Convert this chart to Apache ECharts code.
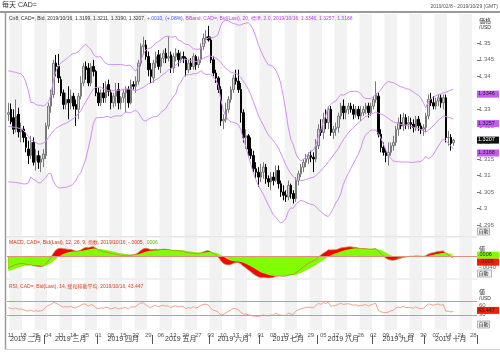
<!DOCTYPE html>
<html>
<head>
<meta charset="utf-8">
<script src="https://cdn.jsdelivr.net/npm/echarts/dist/echarts.min.js"></script>
<style>
  html, body { margin: 0; padding: 0; background: #fff; }
  #chart { width: 500px; height: 352px; }
</style>
</head>
<body>
<div id="chart"></div>
<script>
// daily bars, 2019/02/08 .. 2019/10/16 (weekdays)
const opens = [1.3285,1.3300,1.3275,1.3240,1.3285,1.3232,1.3240,1.3215,1.3180,1.3160,1.3200,1.3145,1.3160,1.3140,1.3150,1.3160,1.3250,1.3310,1.3345,1.3440,
  1.3430,1.3390,1.3350,1.3315,1.3330,1.3320,1.3340,1.3315,1.3300,1.3340,1.3380,1.3430,1.3425,1.3380,1.3430,1.3415,1.3350,1.3320,1.3350,1.3335,
  1.3375,1.3350,1.3320,1.3340,1.3360,1.3320,1.3335,1.3350,1.3360,1.3320,1.3375,1.3370,1.3385,1.3440,1.3490,1.3495,1.3460,1.3420,1.3395,1.3440,
  1.3465,1.3430,1.3455,1.3470,1.3455,1.3465,1.3425,1.3460,1.3470,1.3450,1.3460,1.3455,1.3420,1.3440,1.3430,1.3460,1.3435,1.3450,1.3490,1.3515,
  1.3520,1.3510,1.3450,1.3410,1.3395,1.3360,1.3265,1.3270,1.3300,1.3330,1.3360,1.3395,1.3385,1.3360,1.3290,1.3215,1.3220,1.3180,1.3160,1.3120,
  1.3110,1.3095,1.3110,1.3125,1.3090,1.3080,1.3095,1.3085,1.3115,1.3075,1.3050,1.3040,1.3035,1.3070,1.3045,1.3030,1.3085,1.3105,1.3125,1.3140,
  1.3150,1.3160,1.3155,1.3150,1.3190,1.3240,1.3230,1.3270,1.3260,1.3300,1.3230,1.3240,1.3245,1.3280,1.3310,1.3290,1.3300,1.3310,1.3300,1.3285,
  1.3300,1.3280,1.3290,1.3300,1.3310,1.3290,1.3310,1.3330,1.3340,1.3225,1.3185,1.3170,1.3160,1.3170,1.3190,1.3200,1.3240,1.3260,1.3250,1.3275,
  1.3255,1.3260,1.3255,1.3245,1.3270,1.3250,1.3240,1.3245,1.3280,1.3330,1.3320,1.3310,1.3325,1.3335,1.3320,1.3335,1.3215,1.3215,1.3199];
const highs = [1.3320,1.3318,1.3300,1.3330,1.3305,1.3260,1.3250,1.3230,1.3205,1.3220,1.3215,1.3180,1.3175,1.3160,1.3180,1.3260,1.3320,1.3360,1.3450,1.3465,
  1.3468,1.3400,1.3360,1.3350,1.3370,1.3360,1.3350,1.3330,1.3350,1.3400,1.3440,1.3445,1.3440,1.3440,1.3450,1.3420,1.3365,1.3360,1.3380,1.3385,
  1.3390,1.3360,1.3350,1.3380,1.3380,1.3340,1.3360,1.3370,1.3370,1.3390,1.3385,1.3400,1.3450,1.3500,1.3520,1.3510,1.3475,1.3440,1.3450,1.3475,
  1.3480,1.3470,1.3480,1.3485,1.3520,1.3475,1.3470,1.3485,1.3480,1.3475,1.3475,1.3460,1.3450,1.3455,1.3470,1.3465,1.3460,1.3500,1.3530,1.3540,
  1.3553,1.3520,1.3460,1.3420,1.3400,1.3370,1.3285,1.3320,1.3340,1.3370,1.3405,1.3420,1.3420,1.3380,1.3300,1.3240,1.3225,1.3215,1.3175,1.3140,
  1.3125,1.3135,1.3140,1.3135,1.3100,1.3110,1.3110,1.3130,1.3130,1.3085,1.3070,1.3055,1.3085,1.3075,1.3055,1.3095,1.3115,1.3135,1.3150,1.3165,
  1.3170,1.3175,1.3170,1.3210,1.3255,1.3270,1.3290,1.3300,1.3310,1.3310,1.3250,1.3260,1.3290,1.3320,1.3330,1.3310,1.3320,1.3320,1.3315,1.3310,
  1.3310,1.3310,1.3310,1.3320,1.3320,1.3320,1.3340,1.3385,1.3350,1.3240,1.3200,1.3180,1.3200,1.3200,1.3220,1.3250,1.3275,1.3285,1.3290,1.3285,
  1.3280,1.3275,1.3270,1.3280,1.3280,1.3260,1.3255,1.3290,1.3345,1.3350,1.3340,1.3335,1.3345,1.3345,1.3345,1.3345,1.3235,1.3225,1.3211];
const lows = [1.3265,1.3255,1.3225,1.3230,1.3215,1.3200,1.3200,1.3170,1.3135,1.3150,1.3130,1.3115,1.3120,1.3110,1.3125,1.3150,1.3240,1.3290,1.3335,1.3400,
  1.3380,1.3340,1.3300,1.3300,1.3270,1.3300,1.3300,1.3250,1.3270,1.3330,1.3370,1.3390,1.3370,1.3370,1.3400,1.3340,1.3310,1.3310,1.3320,1.3320,
  1.3340,1.3300,1.3305,1.3310,1.3300,1.3300,1.3320,1.3290,1.3305,1.3315,1.3360,1.3350,1.3375,1.3430,1.3465,1.3450,1.3400,1.3380,1.3380,1.3425,
  1.3420,1.3410,1.3440,1.3440,1.3445,1.3410,1.3410,1.3445,1.3430,1.3440,1.3440,1.3400,1.3410,1.3420,1.3420,1.3420,1.3425,1.3440,1.3480,1.3500,
  1.3505,1.3440,1.3400,1.3380,1.3350,1.3250,1.3240,1.3260,1.3290,1.3320,1.3350,1.3375,1.3350,1.3260,1.3200,1.3180,1.3160,1.3150,1.3110,1.3090,
  1.3065,1.3080,1.3090,1.3075,1.3065,1.3055,1.3070,1.3080,1.3060,1.3035,1.3025,1.3020,1.3025,1.3030,1.3015,1.3020,1.3070,1.3095,1.3110,1.3125,
  1.3135,1.3140,1.3110,1.3140,1.3180,1.3220,1.3210,1.3240,1.3240,1.3220,1.3210,1.3220,1.3230,1.3270,1.3270,1.3270,1.3285,1.3290,1.3270,1.3275,
  1.3270,1.3265,1.3280,1.3285,1.3275,1.3280,1.3300,1.3320,1.3215,1.3170,1.3160,1.3140,1.3130,1.3160,1.3175,1.3190,1.3220,1.3240,1.3235,1.3240,
  1.3240,1.3240,1.3230,1.3235,1.3235,1.3225,1.3220,1.3230,1.3270,1.3310,1.3300,1.3300,1.3310,1.3305,1.3300,1.3200,1.3190,1.3175,1.3190];
const closes = [1.3290,1.3262,1.3240,1.3280,1.3232,1.3240,1.3215,1.3185,1.3160,1.3200,1.3140,1.3160,1.3140,1.3150,1.3165,1.3250,1.3310,1.3345,1.3440,1.3430,
  1.3395,1.3350,1.3315,1.3330,1.3320,1.3340,1.3310,1.3300,1.3340,1.3380,1.3430,1.3420,1.3380,1.3430,1.3415,1.3350,1.3320,1.3350,1.3335,1.3370,
  1.3355,1.3320,1.3340,1.3355,1.3320,1.3335,1.3350,1.3360,1.3320,1.3375,1.3370,1.3385,1.3440,1.3490,1.3495,1.3460,1.3420,1.3400,1.3440,1.3460,
  1.3430,1.3455,1.3470,1.3455,1.3460,1.3425,1.3460,1.3470,1.3450,1.3460,1.3455,1.3420,1.3440,1.3430,1.3460,1.3435,1.3450,1.3490,1.3515,1.3520,
  1.3510,1.3450,1.3410,1.3395,1.3360,1.3265,1.3270,1.3300,1.3330,1.3360,1.3395,1.3385,1.3360,1.3290,1.3215,1.3220,1.3180,1.3160,1.3120,1.3110,
  1.3095,1.3110,1.3125,1.3090,1.3080,1.3095,1.3085,1.3115,1.3075,1.3050,1.3040,1.3035,1.3070,1.3045,1.3030,1.3085,1.3105,1.3125,1.3140,1.3150,
  1.3160,1.3155,1.3150,1.3190,1.3240,1.3230,1.3270,1.3260,1.3300,1.3230,1.3240,1.3245,1.3280,1.3310,1.3290,1.3300,1.3310,1.3300,1.3285,1.3300,
  1.3280,1.3290,1.3300,1.3310,1.3290,1.3310,1.3330,1.3345,1.3225,1.3185,1.3170,1.3160,1.3170,1.3190,1.3200,1.3240,1.3260,1.3250,1.3275,1.3255,
  1.3260,1.3255,1.3245,1.3270,1.3250,1.3240,1.3245,1.3280,1.3330,1.3320,1.3310,1.3325,1.3335,1.3320,1.3335,1.3215,1.3215,1.3197,1.3207];
// closes 2018/12/10 .. 2019/02/07, only used to warm up the indicators
const priorCloses = [1.3370,1.3380,1.3370,1.3380,1.3410,1.3430,1.3450,1.3500,1.3540,1.3560,1.3630,1.3610,1.3650,1.3630,1.3640,1.3630,1.3630,1.3600,1.3530,1.3400,
  1.3320,1.3270,1.3220,1.3250,1.3270,1.3270,1.3280,1.3290,1.3280,1.3260,1.3310,1.3360,1.3380,1.3400,1.3200,1.3260,1.3230,1.3150,1.3110,1.3140,
  1.3100,1.3140,1.3240,1.3280];

const axisStart = '2019-02-08';
const axisEnd = '2019-10-29';
const monthNames = ['一月','二月','三月','四月','五月','六月','七月','八月','九月','十月','十一月','十二月'];
const quoteLabel = ['Cn8, CAD=, Bid, 2019/10/16'];
const bandLast = [1.3346, 1.3257, 1.3168];
const macdLast = [-0.0005, 0.0006];
const rsiLast = 43.447;
const rsiLevels = [70, 30];

function weekdays(s, e) {
  const out = [];
  const d = new Date(s + 'T00:00:00Z');
  const end = new Date(e + 'T00:00:00Z');
  while (d <= end) {
    const w = d.getUTCDay();
    if (w !== 0 && w !== 6) out.push(d.toISOString().slice(0, 10));
    d.setUTCDate(d.getUTCDate() + 1);
  }
  return out;
}
const dates = weekdays(axisStart, axisEnd);
const isMonday = (i) => new Date(dates[i] + 'T00:00:00Z').getUTCDay() === 1;
const monthOf = (i) => +dates[i].slice(5, 7);
const monthFirst = (i) => i > 0 && monthOf(i) !== monthOf(i - 1);
const monthMid = {};
(function () {
  const spans = {};
  dates.forEach((d, i) => {
    const m = monthOf(i);
    if (!spans[m]) spans[m] = [i, i];
    spans[m][1] = i;
  });
  Object.keys(spans).forEach((m) => { monthMid[Math.floor((spans[m][0] + spans[m][1]) / 2)] = +m; });
})();

// indicators from the closes
const all = priorCloses.concat(closes);
const off = priorCloses.length;
function ema(arr, n) {
  const k = 2 / (n + 1);
  const out = [];
  let prev = arr[0];
  arr.forEach((v, i) => { prev = i === 0 ? v : v * k + prev * (1 - k); out.push(prev); });
  return out;
}
const e12 = ema(all, 12), e26 = ema(all, 26);
const macdAll = e12.map((v, i) => v - e26[i]);
const sigAll = ema(macdAll, 9);
const macd = macdAll.slice(off), signal = sigAll.slice(off);
const bbUp = [], bbMid = [], bbLow = [];
closes.forEach((c, i) => {
  const w = all.slice(off + i - 19, off + i + 1);
  const m = w.reduce((a, b) => a + b, 0) / w.length;
  const sd = Math.sqrt(w.reduce((a, b) => a + (b - m) * (b - m), 0) / w.length);
  bbMid.push(m); bbUp.push(m + 2 * sd); bbLow.push(m - 2 * sd);
});
const rsiAll = [];
(function () {
  let g = 0, l = 0;
  for (let i = 1; i < all.length; i++) {
    const ch = all[i] - all[i - 1];
    const up = Math.max(ch, 0), dn = Math.max(-ch, 0);
    if (i <= 14) { g += up / 14; l += dn / 14; }
    else { g = (g * 13 + up) / 14; l = (l * 13 + dn) / 14; }
    rsiAll[i] = i < 14 ? null : (l === 0 ? 100 : 100 - 100 / (1 + g / l));
  }
})();
const rsi = rsiAll.slice(off);

const last = closes.length - 1;
const f4 = (v) => v.toFixed(4);
const fmtSmall = (v) => (v < 0 ? '-' : '') + Math.abs(v).toFixed(4).replace(/^0/, '');
const chg = closes[last] - closes[last - 1];
const headerMain = '{k|' + quoteLabel[0] + ', ' + [opens[last], highs[last], lows[last], closes[last]].map(f4).join(', ') + ', }' +
  '{b|' + (chg >= 0 ? '+' : '') + fmtSmall(chg) + ', (' + (chg >= 0 ? '+' : '-') + Math.abs(chg / closes[last - 1] * 100).toFixed(2).replace(/^0/, '') + '%), }' +
  '{m|BBand, CAD=, Bid(Last), 20, 標準, 2.0, 2019/10/16, ' + bandLast.map(f4).join(', ') + '}';
const headerMacd = '{r|MACD, CAD=, Bid(Last), 12, 26, 9, 指数, 2019/10/16, ' + fmtSmall(macdLast[0]) + ', }{g|' + fmtSmall(macdLast[1]) + '}';
const headerRsi = 'RSI, CAD=, Bid(Last), 14, 緩和移動平均, 2019/10/16, ' + rsiLast.toFixed(3);

const FONT = '"Liberation Sans", "Noto Sans CJK JP", sans-serif';
const GRAY_BAND = '#f2f2f2';
const VIOLET = '#d58cf5';

const grids = [
  { left: 7, right: 23, top: 14, height: 222 },
  { left: 7, right: 23, top: 238, height: 40 },
  { left: 7, right: 23, top: 280, height: 50 }
];
function bandAxis(gi) {
  return {
    type: 'category', gridIndex: gi, data: dates, boundaryGap: true,
    axisLine: { show: false }, axisTick: { show: false }, axisLabel: { show: false },
    splitLine: { show: false },
    splitArea: { show: true, interval: (i) => isMonday(i), areaStyle: { color: ['#ffffff', GRAY_BAND] } }
  };
}
const xAxes = [bandAxis(0), bandAxis(1), bandAxis(2)];
xAxes[2].axisLabel = {
  show: true, interval: (i) => isMonday(i), formatter: (v) => v.slice(8, 10),
  fontSize: 6, color: '#555', margin: 2, fontFamily: FONT
};
xAxes.push({
  type: 'category', gridIndex: 2, data: dates, boundaryGap: true, position: 'bottom', offset: 5,
  axisLine: { show: false },
  axisTick: { show: true, interval: (i) => monthFirst(i), length: 9, lineStyle: { color: '#555', width: 1 } },
  axisLabel: {
    show: true, interval: (i) => monthMid[i] !== undefined,
    formatter: (v) => v.slice(0, 4) + ' ' + monthNames[+v.slice(5, 7) - 1],
    fontSize: 7, color: '#333', margin: 1, fontFamily: FONT
  },
  splitLine: { show: false }, splitArea: { show: false }
});

const axisLab = { fontSize: 6, color: '#666', margin: 2, fontFamily: FONT };
const yAxes = [
  {
    type: 'value', gridIndex: 0, position: 'right', min: 1.29167, max: 1.35887, splitNumber: 13,
    axisLine: { show: false }, axisTick: { show: true, length: 3, lineStyle: { color: '#777' } },
    axisLabel: Object.assign({ formatter: (v) => v > 1.352 ? '' : String(parseFloat(v.toFixed(4))), showMinLabel: false, showMaxLabel: false }, axisLab),
    splitLine: { show: true, lineStyle: { color: '#ebebeb', width: 1 } }
  },
  {
    type: 'value', gridIndex: 1, position: 'right', min: -0.00827, max: 0.00726, splitNumber: 8,
    axisLine: { show: false }, axisTick: { show: false },
    axisLabel: Object.assign({ formatter: (v) => Math.abs(v + 0.004) < 1e-9 ? '-.0040' : '', showMinLabel: false, showMaxLabel: false }, axisLab),
    splitLine: { show: false }
  },
  {
    type: 'value', gridIndex: 2, position: 'right', min: -16.4, max: 136.3, splitNumber: 5,
    axisLine: { show: false }, axisTick: { show: false },
    axisLabel: Object.assign({ formatter: (v) => (Math.abs(v - 60) < 1e-6 || Math.abs(v - 30) < 1e-6) ? String(Math.round(v)) : '', showMinLabel: false, showMaxLabel: false }, axisLab),
    splitLine: { show: false }
  }
];

const candleData = closes.map((c, i) => [opens[i], c, lows[i], highs[i]]);

const series = [
  {
    type: 'candlestick', xAxisIndex: 0, yAxisIndex: 0, data: candleData, barWidth: 2,
    itemStyle: { color: '#d6d6d6', color0: '#000000', borderColor: '#7a7a7a', borderColor0: '#000000', borderWidth: 1 }
  },
  { type: 'line', xAxisIndex: 0, yAxisIndex: 0, data: bbUp, showSymbol: false, lineStyle: { color: VIOLET, width: 1 } },
  { type: 'line', xAxisIndex: 0, yAxisIndex: 0, data: bbMid, showSymbol: false, lineStyle: { color: VIOLET, width: 1 } },
  { type: 'line', xAxisIndex: 0, yAxisIndex: 0, data: bbLow, showSymbol: false, lineStyle: { color: VIOLET, width: 1 } },
  // MACD panel: red = MACD area, green = signal area on top, thin MACD line
  { type: 'line', xAxisIndex: 1, yAxisIndex: 1, data: macd, showSymbol: false, lineStyle: { width: 0 },
    areaStyle: { color: '#ff0000', opacity: 1, origin: 0 } },
  { type: 'line', xAxisIndex: 1, yAxisIndex: 1, data: signal, showSymbol: false, lineStyle: { width: 0 },
    areaStyle: { color: '#80ff00', opacity: 1, origin: 0 } },
  { type: 'line', xAxisIndex: 1, yAxisIndex: 1, data: macd, showSymbol: false, lineStyle: { color: '#c08040', width: 0.8 },
    markLine: { symbol: 'none', silent: true, lineStyle: { color: '#e0907a', width: 1, type: 'solid' }, label: { show: false }, data: [{ yAxis: 0 }] } },
  // RSI panel
  { type: 'line', xAxisIndex: 2, yAxisIndex: 2, data: rsi, showSymbol: false, lineStyle: { color: '#f2a08c', width: 1 },
    markLine: { symbol: 'none', silent: true, lineStyle: { color: '#f08a78', width: 1, type: 'solid' }, label: { show: false },
      data: rsiLevels.map((v) => ({ yAxis: v })) } }
];

const chart = echarts.init(document.getElementById('chart'), null, { renderer: 'canvas' });
chart.setOption({
  animation: false,
  backgroundColor: '#ffffff',
  textStyle: { fontFamily: FONT },
  grid: grids,
  xAxis: xAxes,
  yAxis: yAxes,
  series: series
});

// overlay texts, frame and value badges (badge heights from the axes)
const py = (ai, v) => chart.convertToPixel({ yAxisIndex: ai }, v);
const txt = (x, y, text, size, fill, align) => ({ type: 'text', x: x, y: y, silent: true, z: 20,
  style: { text: text, fontSize: size, fill: fill, fontFamily: FONT, align: align || 'left' } });
function badge(y, text, bg, fg) {
  return [
    { type: 'rect', silent: true, z: 20, shape: { x: 477, y: y - 3.5, width: 22, height: 7 }, style: { fill: bg } },
    txt(478, y - 3, text, 5.5, fg)
  ];
}
const box = (y, w) => ({ type: 'rect', silent: true, z: 20, shape: { x: 477.5, y: y, width: w, height: 7 }, style: { fill: '#f4f4f4', stroke: '#888', lineWidth: 0.6 } });
const yMacd = py(1, macdLast[1]);
const yZero = py(1, 0);
const graphic = [
  { type: 'line', silent: true, shape: { x1: 0, y1: 12, x2: 500, y2: 12 }, style: { stroke: '#9a9a9a', lineWidth: 2 } },
  { type: 'line', silent: true, shape: { x1: 5.5, y1: 12, x2: 5.5, y2: 350 }, style: { stroke: '#9a9a9a', lineWidth: 1.5 } },
  { type: 'line', silent: true, shape: { x1: 5, y1: 349.5, x2: 500, y2: 349.5 }, style: { stroke: '#cfcfcf', lineWidth: 1 } },
  { type: 'line', silent: true, shape: { x1: 6, y1: 237, x2: 477, y2: 237 }, style: { stroke: '#e0e0e0', lineWidth: 1 } },
  { type: 'line', silent: true, shape: { x1: 6, y1: 279, x2: 477, y2: 279 }, style: { stroke: '#e0e0e0', lineWidth: 1 } },
  { type: 'line', silent: true, shape: { x1: 477, y1: yZero, x2: 490, y2: yZero }, style: { stroke: '#f0a0a0', lineWidth: 1 } },
  txt(2, 2, '毎天 CAD=', 7, '#333'),
  txt(498, 4, '2019/02/8 - 2019/10/29 (GMT)', 5, '#555', 'right'),
  { type: 'text', x: 9, y: 16.5, silent: true, z: 20, style: { text: headerMain, fontSize: 5, fontFamily: FONT,
    rich: { k: { fill: '#333', fontSize: 5 }, b: { fill: '#3d4dff', fontSize: 5 }, m: { fill: '#b83ee8', fontSize: 5 } } } },
  { type: 'text', x: 9, y: 240, silent: true, z: 20, style: { text: headerMacd, fontSize: 5, fontFamily: FONT,
    rich: { r: { fill: '#e0301c', fontSize: 5 }, g: { fill: '#55c000', fontSize: 5 } } } },
  txt(9, 284.5, headerRsi, 5, '#e03c22'),
  { type: 'rect', silent: true, z: 19, shape: { x: 477, y: 16, width: 22, height: 16 }, style: { fill: '#fff' } },
  txt(479, 18, '価格', 6, '#333'),
  txt(479, 25, '/USD', 5, '#333'),
  txt(479, 246, '値', 6, '#333'),
  txt(479, 289.5, '値', 6, '#333'),
  txt(479, 296, '/USD', 5, '#333'),
  box(228, 12), txt(478.5, 229, '自動', 5, '#222'),
  box(270, 14), txt(478.5, 271, '自動', 5, '#222'),
  box(321, 12), txt(478.5, 322, '自動', 5, '#222')
].concat(
  badge(py(0, bandLast[0]), f4(bandLast[0]), '#c75af0', '#222'),
  badge(py(0, bandLast[1]), f4(bandLast[1]), '#c75af0', '#222'),
  badge(py(0, bandLast[2]), f4(bandLast[2]), '#c75af0', '#222'),
  badge(py(0, closes[last]), f4(closes[last]), '#111', '#fff'),
  badge(yMacd, fmtSmall(macdLast[1]), '#80ff00', '#222'),
  badge(yMacd + 7, fmtSmall(macdLast[0]), '#ff1a00', '#222'),
  badge(py(2, rsiLast), rsiLast.toFixed(3), '#ff1a00', '#222')
);
chart.setOption({ graphic: graphic });
</script>
</body>
</html>
